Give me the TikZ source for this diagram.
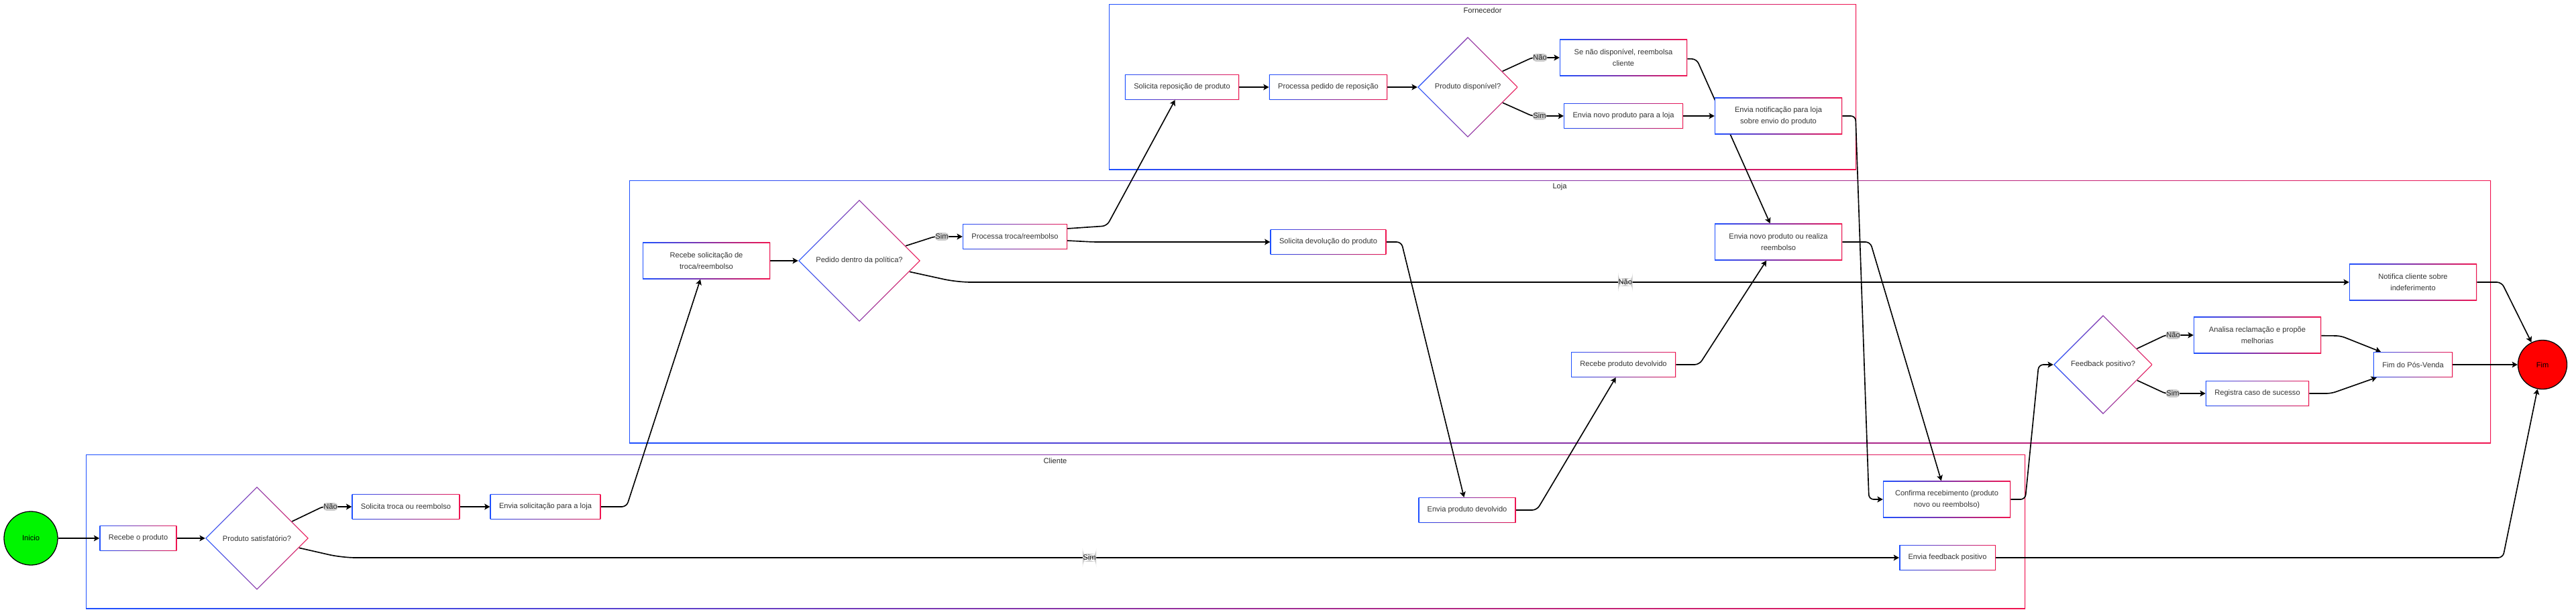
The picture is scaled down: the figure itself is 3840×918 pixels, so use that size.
\documentclass[tikz,border=0pt]{standalone}
\usepackage{fontspec}
\setmainfont{Liberation Sans}
\usepackage{xcolor}
\usepackage{tikz}
\usetikzlibrary{shapes.geometric, arrows.meta, calc, shadows}

\definecolor{laneblue}{RGB}{30,80,255}
\definecolor{lanered}{RGB}{240,20,80}
\definecolor{txtgray}{RGB}{51,51,51}
\definecolor{startgreen}{RGB}{0,245,0}
\definecolor{endred}{RGB}{255,0,0}
\definecolor{lblgray}{RGB}{204,204,204}

\pgfdeclarelayer{lanes}
\pgfdeclarelayer{flows}
\pgfsetlayers{lanes,flows,main}

\newcommand{\nodefont}{\fontsize{9.5}{15}\selectfont}

\begin{document}
\begin{tikzpicture}[
    x=0.03cm, y=-0.03cm,
    gradframe/.style={path picture={
        \shade[left color=laneblue, right color=lanered] (path picture bounding box.south west) rectangle (path picture bounding box.north east);
        \fill[white] ([shift={(#1,#1)}]path picture bounding box.south west) rectangle ([shift={(-#1,-#1)}]path picture bounding box.north east);}},
    gradframe/.default=1.1pt,
    procbox/.style={rectangle, minimum height=1.13cm, inner xsep=0.4cm, align=center, font=\nodefont, text=txtgray, gradframe,
        drop shadow={opacity=0.12, shadow xshift=0.6pt, shadow yshift=-0.8pt}},
    widebox/.style={procbox, minimum width=5.7cm, minimum height=1.65cm, inner xsep=2pt},
    decision/.style={diamond, aspect=1, inner sep=1pt, align=center, font=\nodefont, text=txtgray, path picture={
        \shade[left color=laneblue, right color=lanered] (path picture bounding box.south west) rectangle (path picture bounding box.north east);
        \fill[white] ([yshift=-1.6pt]path picture bounding box.north) -- ([xshift=-1.6pt]path picture bounding box.east) -- ([yshift=1.6pt]path picture bounding box.south) -- ([xshift=1.6pt]path picture bounding box.west) -- cycle;}},
    terminal/.style={circle, draw=black, line width=1.1pt, minimum size=#1, inner sep=0pt, font=\nodefont, text=black},
    lbl/.style={fill=lblgray, inner xsep=0.5pt, inner ysep=1.5pt, font=\nodefont, text=black!85},
    lane/.style={gradframe=1.2pt},
    lanetitle/.style={font=\nodefont, text=black!85},
    arrow/.style={line width=1.4pt, -{Stealth[length=7pt, width=7.5pt, inset=1.5pt]}, rounded corners=6pt}
]
    \useasboundingbox (0,0) rectangle (3840,918);

    % Lanes
    \begin{pgfonlayer}{lanes}
    \path [lane] (1653,6) rectangle (2767,253);
    \path [lane] (938,269) rectangle (3713,661);
    \path [lane] (128,678) rectangle (3019,908);
    \end{pgfonlayer}
    \node (forntitle) [lanetitle] at (2210,16) {Fornecedor};
    \node (lojatitle) [lanetitle] at (2325,279) {Loja};
    \node (clititle) [lanetitle] at (1573,688) {Cliente};

    % Nodes: Fornecedor
    \node (solrep) [procbox] at (1762,130) {Solicita reposição de produto};
    \node (procrep) [procbox] at (1980,130) {Processa pedido de reposição};
    \node (prodisp) [decision, minimum size=4.5cm] at (2188,130) {Produto disponível?};
    \node (se) [widebox] at (2420,86) {Se não disponível, reembolsa\\cliente};
    \node (envnovo) [procbox] at (2420,173) {Envia novo produto para a loja};
    \node (notif) [widebox] at (2651,173) {Envia notificação para loja\\sobre envio do produto};

    % Nodes: Loja
    \node (recsol) [widebox] at (1053,389) {Recebe solicitação de\\troca/reembolso};
    \node (pedido) [decision, minimum size=5.46cm] at (1281,389) {Pedido dentro da política?};
    \node (proctroca) [procbox] at (1513,353) {Processa troca/reembolso};
    \node (soldev) [procbox] at (1980,361) {Solicita devolução do produto};
    \node (envr) [widebox] at (2651,361) {Envia novo produto ou realiza\\reembolso};
    \node (notifica) [widebox] at (3597,421) {Notifica cliente sobre\\indeferimento};
    \node (recdev) [procbox] at (2420,544) {Recebe produto devolvido};
    \node (feedback) [decision, minimum size=4.44cm] at (3135,544) {Feedback positivo?};
    \node (analisa) [widebox] at (3365,500) {Analisa reclamação e propõe\\melhorias};
    \node (registra) [procbox] at (3365,587) {Registra caso de sucesso};
    \node (fpv) [procbox] at (3597,544) {Fim do Pós-Venda};
    \node (fim) [terminal=2.19cm, fill=endred] at (3790,544) {Fim};

    % Nodes: Cliente
    \node (inicio) [terminal=2.4cm, fill=startgreen] at (46,803) {Inicio};
    \node (recprod) [procbox] at (206,803) {Recebe o produto};
    \node (psat) [decision, minimum size=4.62cm] at (383,803) {Produto satisfatório?};
    \node (soltroca) [procbox] at (605,756) {Solicita troca ou reembolso};
    \node (envsol) [procbox] at (813,756) {Envia solicitação para a loja};
    \node (envdev) [procbox] at (2187,761) {Envia produto devolvido};
    \node (confirma) [widebox] at (2902,745) {Confirma recebimento (produto\\novo ou reembolso)};
    \node (envfb) [procbox] at (2903,832) {Envia feedback positivo};

    % Flows
    \begin{pgfonlayer}{flows}
    \draw [arrow] (inicio) -- (recprod);
    \draw [arrow] (recprod) -- (psat);
    \draw [arrow, rounded corners=4pt] (psat) -- (481,756) node [lbl, anchor=west] (naosat) {Não} -- (soltroca);
    \draw [arrow] (soltroca) -- (envsol);
    \draw [arrow] (envsol) -- (934,756) -- (recsol);
    \draw [arrow, rounded corners=0.6cm] (psat) -- (510,832) -- node [lbl, pos=0.48] (simsat) {Sim} (envfb);
    \draw [arrow] (envfb) -- (3731,832) -- (fim);

    \draw [arrow] (recsol) -- (pedido);
    \draw [arrow, rounded corners=4pt] (pedido) -- (1393,353) node [lbl, anchor=west] (simpol) {Sim} -- (proctroca);
    \draw [arrow, rounded corners=0.6cm] (pedido) -- (1427,421) -- node [lbl, pos=0.48] (naopol) {Não} (notifica);
    \draw [arrow] ([yshift=0.36cm]proctroca.east) -- (1650,337) -- (solrep);
    \draw [arrow] ([yshift=-0.18cm]proctroca.east) -- (1630,361) -- (soldev);
    \draw [arrow] (soldev) -- (2089,361) -- (envdev);
    \draw [arrow] (envdev) -- (2291,761) -- (recdev);
    \draw [arrow] (recdev) -- (2533,544) -- (envr);
    \draw [arrow] (envr) -- (2788,361) -- (confirma);
    \draw [arrow] (notifica) -- (3729,421) -- (fim);
    \draw [arrow] (confirma) -- (3019,745) -- (3039,544) -- (feedback);
    \draw [arrow, rounded corners=4pt] (feedback) -- (3228,500) node [lbl, anchor=west] (naofb) {Não} -- (analisa);
    \draw [arrow, rounded corners=4pt] (feedback) -- (3228,587) node [lbl, anchor=west] (simfb) {Sim} -- (registra);
    \draw [arrow] (analisa) -- (3489,501) -- (fpv);
    \draw [arrow] (registra) -- (3475,587) -- (fpv);
    \draw [arrow] (fpv) -- (fim);

    \draw [arrow] (solrep) -- (procrep);
    \draw [arrow] (procrep) -- (prodisp);
    \draw [arrow, rounded corners=4pt] (prodisp) -- (2284,86) node [lbl, anchor=west] (naodisp) {Não} -- (se);
    \draw [arrow, rounded corners=4pt] (prodisp) -- (2284,173) node [lbl, anchor=west] (simdisp) {Sim} -- (envnovo);
    \draw [arrow] (envnovo) -- (notif);
    \draw [arrow] (se) -- (2529,88) -- (envr);
    \draw [arrow] (notif) -- (2766,173) -- (2786,745) -- (confirma);
    \end{pgfonlayer}

\end{tikzpicture}
\end{document}
